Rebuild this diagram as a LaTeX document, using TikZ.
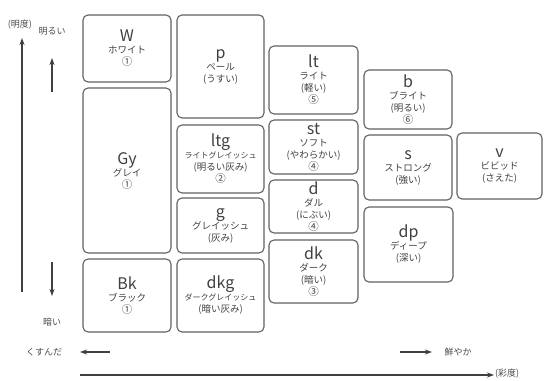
\documentclass[tikz,border=0pt]{standalone}
\usepackage{fontspec}
\setmainfont{Noto Sans CJK JP}
\usetikzlibrary{arrows.meta}
\begin{document}
\begin{tikzpicture}[x=1pt,y=-1pt,
  box/.style={draw=black!62,line width=1.1pt,rounded corners=5pt,inner sep=0pt,
    align=center,text=black!75,font=\fontsize{9.5}{12}\selectfont},
  ax/.style={draw=black!75,line width=1.1pt,-{Stealth[length=7pt,width=5pt]}},
  lab/.style={text=black!70,font=\fontsize{9}{10}\selectfont,inner sep=0pt}]
\useasboundingbox (0,0) rectangle (551,380);
\newcommand{\cd}[1]{{\fontsize{16}{17}\selectfont #1}}
\newcommand{\sm}[1]{{\fontsize{8}{10}\selectfont #1}}
\newcommand{\cn}[1]{{\fontsize{10.5}{11}\selectfont #1}}
\newcommand{\boxat}[6]{\node[box,minimum width=#4-#2,minimum height=#5-#3] (#1) at ({(#2+#4)/2},{(#3+#5)/2}) {#6};}
% column 1
\boxat{W}{83}{15}{171}{82}{\cd{W}\\ホワイト\\\cn{①}}
\boxat{Gy}{83}{88}{171}{253}{\cd{Gy}\\グレイ\\\cn{①}}
\boxat{Bk}{83}{259}{171}{332}{\cd{Bk}\\ブラック\\\cn{①}}
% column 2
\boxat{p}{177}{15}{264}{118}{\cd{p}\\ペール\\(うすい)}
\boxat{ltg}{177}{125}{264}{193}{\cd{ltg}\\\sm{ライトグレイッシュ}\\(明るい灰み)\\\cn{②}}
\boxat{g}{177}{198}{264}{253}{\cd{g}\\グレイッシュ\\(灰み)}
\boxat{dkg}{177}{259}{264}{332}{\cd{dkg}\\\sm{ダークグレイッシュ}\\(暗い灰み)}
% column 3
\boxat{lt}{269}{46}{358}{114}{\cd{lt}\\ライト\\(軽い)\\\cn{⑤}}
\boxat{st}{269}{120}{358}{174}{\cd{st}\\ソフト\\(やわらかい)\\\cn{④}}
\boxat{d}{269}{180}{358}{233}{\cd{d}\\ダル\\(にぶい)\\\cn{④}}
\boxat{dk}{269}{240}{358}{303}{\cd{dk}\\ダーク\\(暗い)\\\cn{③}}
% column 4
\boxat{b}{364}{70}{452}{129}{\cd{b}\\ブライト\\(明るい)\\\cn{⑥}}
\boxat{s}{364}{135}{452}{200}{\cd{s}\\ストロング\\(強い)}
\boxat{dp}{364}{207}{453}{282}{\cd{dp}\\ディープ\\(深い)}
% column 5
\boxat{v}{457}{133}{542}{199}{\cd{v}\\ビビッド\\(さえた)}
% axes
\node[lab] (mdo) at (20,25) {(明度)};
\coordinate (vaS) at (22,292);
\coordinate (vaE) at (22,38);
\draw[ax] (vaS) -- (vaE);
\node[lab] (akarui) at (52,31) {明るい};
\coordinate (upS) at (52,92);
\coordinate (upE) at (52,58);
\draw[ax] (upS) -- (upE);
\coordinate (dnS) at (52,262);
\coordinate (dnE) at (52,296);
\draw[ax] (dnS) -- (dnE);
\node[lab] (kurai) at (52,322) {暗い};
\node[lab] (kusunda) at (44,352) {くすんだ};
\coordinate (lS) at (110,352);
\coordinate (lE) at (80,352);
\draw[ax] (lS) -- (lE);
\coordinate (rS) at (400,352);
\coordinate (rE) at (432,352);
\draw[ax] (rS) -- (rE);
\node[lab] (azayaka) at (458,352) {鮮やか};
\coordinate (haS) at (80,375);
\coordinate (haE) at (494,375);
\draw[ax] (haS) -- (haE);
\node[lab,anchor=west] (saido) at (495,374) {(彩度)};
\end{tikzpicture}
\end{document}
